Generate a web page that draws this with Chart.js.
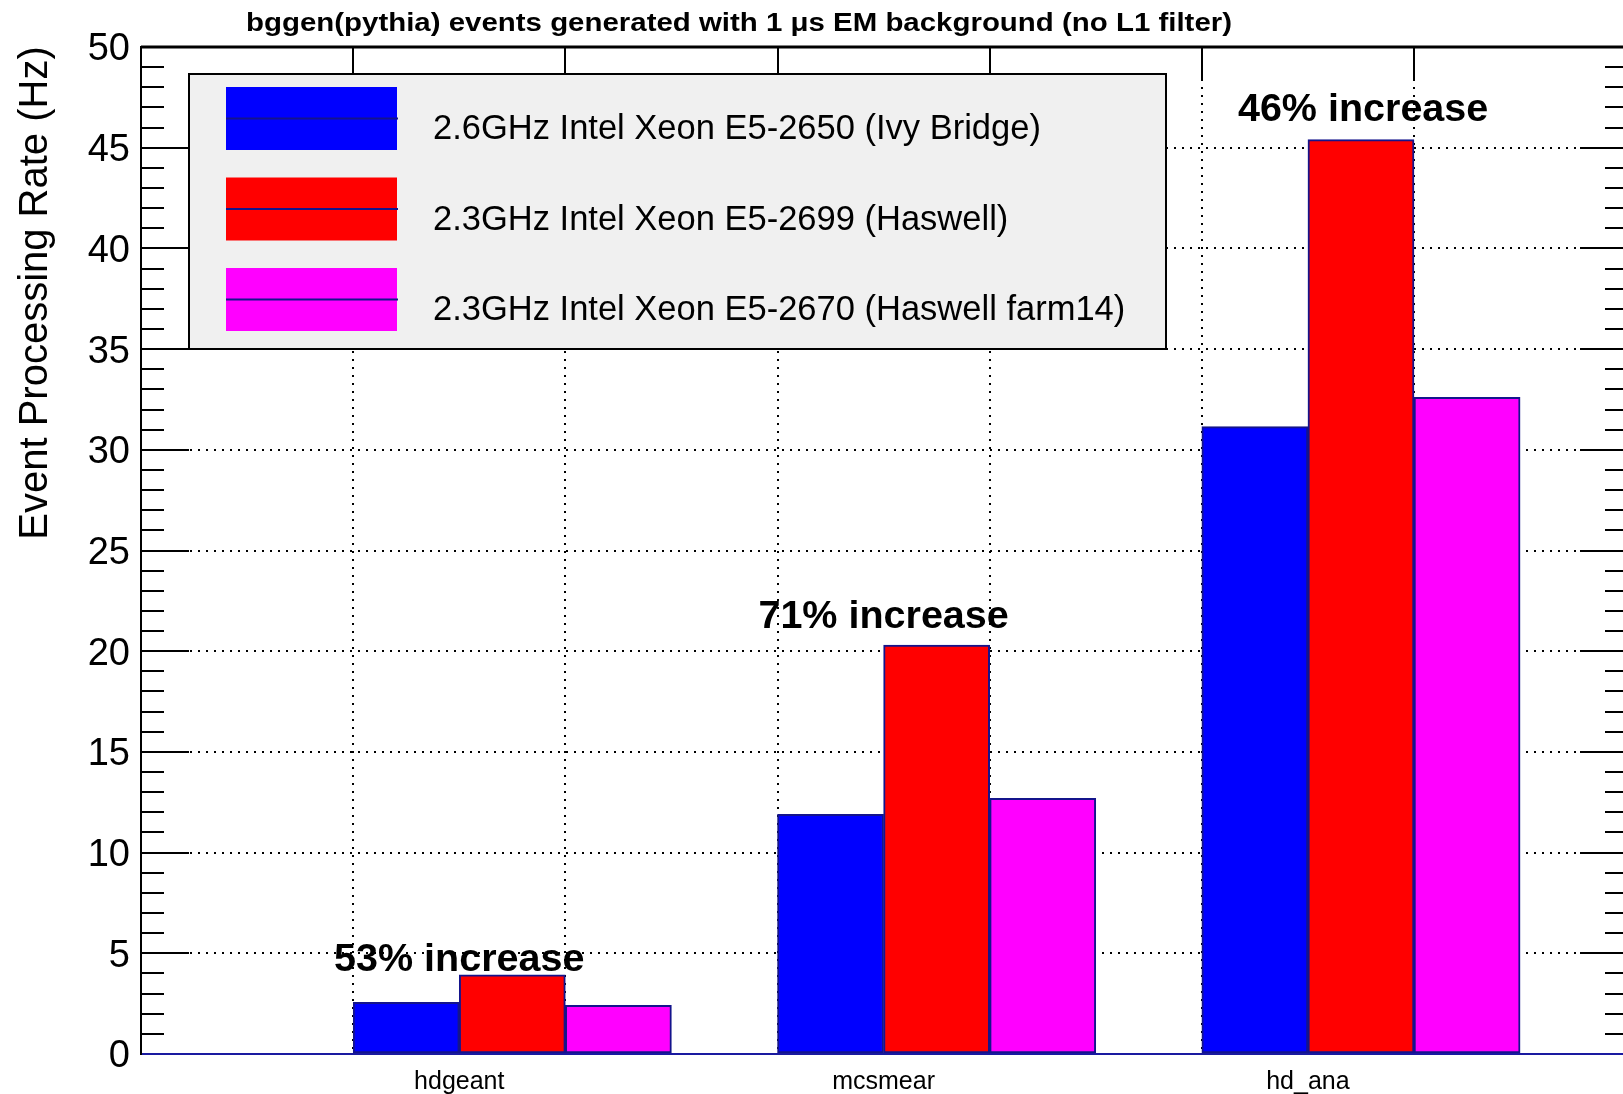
<!DOCTYPE html>
<html lang="en">
<head>
    <meta charset="UTF-8">
    <title>bggen(pythia) event processing rate</title>
    <script src="https://cdn.jsdelivr.net/npm/chart.js"></script>
    <style>
        html, body { margin: 0; padding: 0; background: #fff; }
        #wrap { width: 1623px; height: 1094px; position: relative; }
    </style>
</head>
<body>
    <div id="wrap"><canvas id="rateChart"></canvas></div>
    <script>
        // values (Hz)
        const categories = ['hdgeant', 'mcsmear', 'hd_ana'];
        const seriesNames = [
            '2.6GHz Intel Xeon E5-2650 (Ivy Bridge)',
            '2.3GHz Intel Xeon E5-2699 (Haswell)',
            '2.3GHz Intel Xeon E5-2670 (Haswell farm14)'
        ];
        const ivyBridge = [2.57, 11.9, 31.15];
        const haswell = [3.93, 20.3, 45.4];
        const haswellFarm14 = [2.42, 12.7, 32.6];
        const yTicks = [0, 5, 10, 15, 20, 25, 30, 35, 40, 45, 50];
        const notes = ['53% increase', '71% increase', '46% increase'];

        const titleText = 'bggen(pythia) events generated with 1 \u03bcs EM background (no L1 filter)';
        const yTitle = 'Event Processing Rate (Hz)';

        // histogram layout: 7 bins, category i sits in bin 2i+1, bars are half a bin wide
        const X_MAX = 6.985;
        const binX = (cat, s) => 2 * cat + 1.25 + 0.5 * s;
        // where the annotation text sits, in axis units (x = bin, y = Hz at baseline)
        const noteX = [1.5, 3.5, 5.76];
        const noteY = [4.14, 21.17, 46.33];

        const seriesValues = [ivyBridge, haswell, haswellFarm14];
        const fills = ['#0000ff', '#ff0000', '#ff00ff'];
        const FONT = "'Liberation Sans', Arial, Helvetica, sans-serif";
        Chart.defaults.font.family = FONT;
        Chart.defaults.color = '#000';

        const rootDecor = {
            id: 'rootDecor',
            afterDatasetsDraw(chart) {
                const { ctx, chartArea: a, scales: { x, y } } = chart;
                ctx.save();
                ctx.strokeStyle = '#000';

                // top frame
                ctx.lineWidth = 3;
                ctx.beginPath();
                ctx.moveTo(a.left, a.top);
                ctx.lineTo(a.right, a.top);
                ctx.stroke();
                ctx.lineWidth = 2;

                // inward ticks on both y axes
                for (let v = 1; v < 50; v++) {
                    const py = Math.round(y.getPixelForValue(v));
                    const major = v % 5 === 0;
                    ctx.beginPath();
                    ctx.moveTo(a.left, py);
                    ctx.lineTo(a.left + (major ? 48 : 23), py);
                    ctx.moveTo(a.right, py);
                    ctx.lineTo(a.right - (major ? 43 : 18), py);
                    ctx.stroke();
                }
                // top axis ticks at bin edges
                for (let b = 1; b <= 6; b++) {
                    const px = Math.round(x.getPixelForValue(b));
                    ctx.beginPath();
                    ctx.moveTo(px, a.top);
                    ctx.lineTo(px, a.top + 32);
                    ctx.stroke();
                }

                // legend box
                ctx.fillStyle = '#f0f0f0';
                ctx.fillRect(189, 74, 977, 275);
                ctx.strokeRect(189, 74, 977, 275);
                ctx.font = '34.5px ' + FONT;
                ctx.textAlign = 'left';
                ctx.textBaseline = 'alphabetic';
                chart.data.datasets.forEach((ds, r) => {
                    const top = 87 + 90.5 * r;
                    ctx.fillStyle = ds.backgroundColor;
                    ctx.fillRect(226, top, 171, 63);
                    ctx.strokeStyle = '#14148c';
                    ctx.beginPath();
                    ctx.moveTo(226, top + 31.5);
                    ctx.lineTo(398, top + 31.5);
                    ctx.stroke();
                    ctx.fillStyle = '#000';
                    ctx.fillText(ds.label, 433, top + 52);
                });

                // annotations
                ctx.font = 'bold 39.5px ' + FONT;
                ctx.textAlign = 'center';
                ctx.fillStyle = '#000';
                notes.forEach((t, i) => {
                    ctx.fillText(t, x.getPixelForValue(noteX[i]), y.getPixelForValue(noteY[i]));
                });
                ctx.restore();
            },
            afterDraw(chart) {
                const { ctx } = chart;
                ctx.save();
                ctx.fillStyle = '#000';
                // title, squeezed to the width it has in the original
                ctx.font = 'bold 25px ' + FONT;
                ctx.textAlign = 'center';
                ctx.textBaseline = 'alphabetic';
                const w = ctx.measureText(titleText).width;
                ctx.translate(739, 31);
                ctx.scale(986 / w, 1);
                ctx.fillText(titleText, 0, 0);
                ctx.setTransform(1, 0, 0, 1, 0, 0);
                // y axis title, top aligned
                ctx.font = '40px ' + FONT;
                ctx.translate(47, 293);
                ctx.rotate(-Math.PI / 2);
                ctx.fillText(yTitle, 0, 0);
                ctx.restore();
            }
        };

        const chart = new Chart(document.getElementById('rateChart'), {
            type: 'bar',
            data: {
                datasets: seriesValues.map((vals, s) => ({
                    label: seriesNames[s],
                    data: vals.map((v, i) => ({ x: binX(i, s), y: v })),
                    backgroundColor: fills[s],
                    borderColor: '#14148c',
                    borderWidth: 2,
                    borderSkipped: false,
                    grouped: false,
                    categoryPercentage: 1,
                    barPercentage: 1,
                    xAxisID: 'x'
                }))
            },
            options: {
                responsive: true,
                maintainAspectRatio: false,
                animation: false,
                layout: { padding: { top: 47, right: 0, bottom: 0, left: 0 } },
                plugins: {
                    legend: { display: false },
                    title: { display: false },
                    tooltip: { enabled: false }
                },
                scales: {
                    x: {
                        type: 'linear',
                        min: 0,
                        max: X_MAX,
                        offset: false,
                        position: 'bottom',
                        ticks: { display: false, stepSize: 1 },
                        grid: {
                            offset: false,
                            color: c => (c.tick && Number.isInteger(c.tick.value) && c.tick.value >= 1 && c.tick.value <= 6) ? '#000' : 'rgba(0,0,0,0)',
                            lineWidth: 2,
                            drawTicks: false
                        },
                        border: { color: '#1a1aa0', width: 2, dash: [2, 6] },
                        afterFit: s => { s.height = 0; }
                    },
                    xl: {
                        type: 'linear',
                        min: 0,
                        max: X_MAX,
                        offset: false,
                        position: 'bottom',
                        afterBuildTicks: s => { s.ticks = categories.map((c, i) => ({ value: 2 * i + 1.5 })); },
                        ticks: {
                            callback: (v, i) => categories[i],
                            autoSkip: false,
                            maxRotation: 0,
                            font: { size: 25 },
                            padding: 13
                        },
                        grid: { display: false, drawTicks: false, offset: false },
                        border: { display: false },
                        afterFit: s => { s.height = 40; }
                    },
                    y: {
                        min: 0,
                        max: 50,
                        afterBuildTicks: s => { s.ticks = yTicks.map(v => ({ value: v })); },
                        ticks: { font: { size: 38 }, padding: 11, labelOffset: 3 },
                        grid: {
                            color: c => (c.tick && c.tick.value > 0 && c.tick.value < 50) ? '#000' : 'rgba(0,0,0,0)',
                            lineWidth: 2,
                            drawTicks: false
                        },
                        border: { color: '#000', width: 2, dash: [2, 6] },
                        afterFit: s => { s.width = 141; }
                    }
                }
            },
            plugins: [rootDecor]
        });
    </script>
</body>
</html>
